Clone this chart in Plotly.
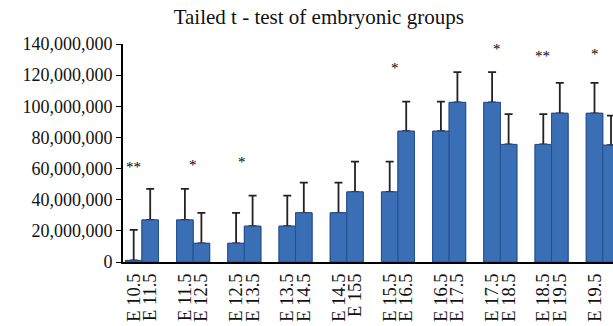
import plotly.graph_objects as go

# ---- data ----
first_labels = ["E 10.5", "E 11.5", "E 12.5", "E 13.5", "E 14.5",
                "E 15.5", "E 16.5", "E 17.5", "E 18.5", "E 19.5"]
second_labels = ["E 11.5", "E 12.5", "E 13.5", "E 14.5", "E 155",
                 "E 16.5", "E 17.5", "E 18.5", "E 19.5", "E 20.5"]
first_means = [1.0e6, 27.0e6, 12.0e6, 23.0e6, 31.6e6,
               45.0e6, 84.0e6, 102.5e6, 75.5e6, 95.5e6]
first_err = [19.6e6, 20.0e6, 19.5e6, 19.6e6, 19.4e6,
             19.5e6, 19.0e6, 19.5e6, 19.5e6, 19.5e6]
second_means = [27.0e6, 12.0e6, 23.0e6, 31.6e6, 45.0e6,
                84.0e6, 102.5e6, 75.5e6, 95.5e6, 75.0e6]
second_err = [20.0e6, 19.5e6, 19.6e6, 19.4e6, 19.5e6,
              19.0e6, 19.5e6, 19.5e6, 19.5e6, 19.0e6]
significance = ["**", "*", "*", "", "", "*", "", "*", "**", "*"]
sig_level = [61e6, 62e6, 64e6, None, None, 124.5e6, None, 137e6, 132e6, 133.5e6]

# ---- layout helpers ----
pairs = list(range(len(first_labels)))
bargap = 0.355
half = (1 - bargap) / 4
sig_dx = [-0.16, 0.0, -0.04, 0, 0, -0.06, 0, -0.06, -0.17, -0.16]

FONT = "Liberation Serif"
BAR = "#3A6FB6"
EDGE = "#25508E"

fig = go.Figure()
for means, errs, grp in [(first_means, first_err, "a"), (second_means, second_err, "b")]:
    fig.add_trace(go.Bar(
        x=pairs, y=means, offsetgroup=grp,
        marker=dict(color=BAR, line=dict(color=EDGE, width=1)),
        error_y=dict(type="data", array=errs, arrayminus=[0] * len(errs),
                     symmetric=False, color="#222222", thickness=1.8, width=4),
        showlegend=False, hoverinfo="skip"))
# redraw bars on top so the error-bar foot is hidden
for means, grp in [(first_means, "a"), (second_means, "b")]:
    fig.add_trace(go.Bar(
        x=pairs, y=means, offsetgroup=grp,
        marker=dict(color=BAR, line=dict(color=EDGE, width=1)),
        showlegend=False, hoverinfo="skip"))

tickvals, ticktext = [], []
for i in pairs:
    tickvals += [i - half, i + half]
    ticktext += [first_labels[i], second_labels[i]]

annotations = []
for i in pairs:
    if significance[i]:
        annotations.append(dict(x=i + sig_dx[i], y=sig_level[i], xref="x", yref="y",
                                text=significance[i], showarrow=False,
                                font=dict(family=FONT, size=15, color="black"),
                                xanchor="center", yanchor="middle"))

fig.update_layout(
    width=613, height=326,
    margin=dict(l=123, r=0, t=44, b=64, autoexpand=False),
    paper_bgcolor="white", plot_bgcolor="white",
    barmode="group", bargap=bargap, bargroupgap=0,
    font=dict(family=FONT, size=18, color="#111111"),
    title=dict(text="Tailed t - test of embryonic groups", x=0.52, xref="container",
               y=1 - 17 / 326, yref="container", xanchor="center", yanchor="middle",
               font=dict(family=FONT, size=21, color="#111111")),
    xaxis=dict(range=[-0.37, 9.2], tickmode="array", tickvals=tickvals, ticktext=ticktext,
               tickangle=-90, showline=True, linecolor="black", linewidth=2,
               ticks="", showgrid=False, zeroline=False, ticklabelstandoff=2,
               automargin=False, tickfont=dict(family=FONT, size=18.5)),
    yaxis=dict(range=[0, 140e6], dtick=20e6, tickformat=",", showline=True,
               linecolor="black", linewidth=2, ticks="outside", ticklen=5,
               tickcolor="black", showgrid=False, zeroline=False, automargin=False,
               tickfont=dict(family=FONT, size=18)),
    annotations=annotations,
)

fig.write_html("out.html")
